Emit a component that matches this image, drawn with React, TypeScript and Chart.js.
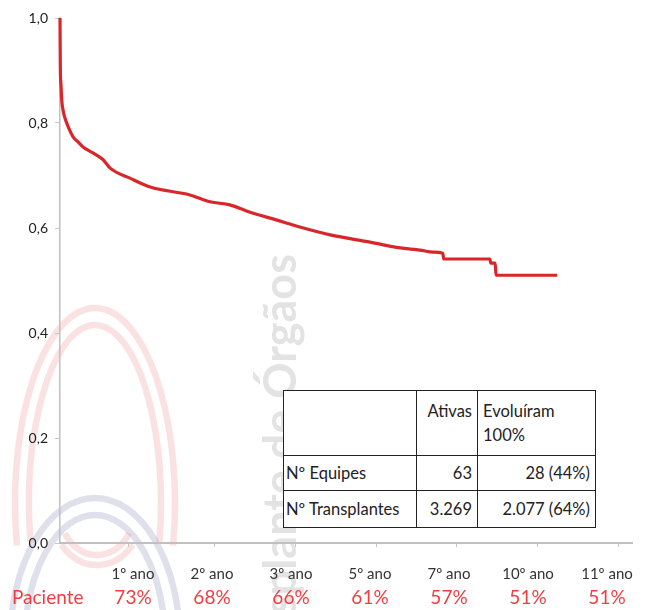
import React, { useEffect, useRef } from "react";
import { Chart, registerables } from "chart.js";

Chart.register(...registerables);

// Kaplan-Meier style survival curve (x in years, y = survival probability)
const survivalYears = [0, 0.007, 0.023, 0.039, 0.08, 0.152, 0.227, 0.3, 0.41, 0.53, 0.75, 0.98, 1.14, 1.59, 2.05, 2.95, 3.41, 3.86, 4.32, 4.93, 5.45, 6.14, 7.05, 7.73, 8.18, 8.48, 8.7, 8.72, 9.77, 9.79, 9.89, 9.91, 11.3];
const survivalValues = [1.0, 0.907, 0.872, 0.844, 0.82, 0.8, 0.785, 0.773, 0.764, 0.754, 0.743, 0.73, 0.714, 0.695, 0.678, 0.663, 0.65, 0.644, 0.63, 0.615, 0.602, 0.587, 0.573, 0.562, 0.558, 0.554, 0.552, 0.541, 0.541, 0.533, 0.533, 0.51, 0.51];

const yTickValues = [0, 0.2, 0.4, 0.6, 0.8, 1.0];
const xTickValues = [1.55, 3.5, 5.35, 7.2, 9.0, 10.85, 12.7];

const yearLabels = ["1º ano", "2º ano", "3º ano", "5º ano", "7º ano", "10º ano", "11º ano"];
const patientPct = ["73%", "68%", "66%", "61%", "57%", "51%", "51%"];
const rowTitle = "Paciente";

const tableHeader = ["", "Ativas", "Evoluíram\n100%"];
const tableRowLabels = ["Nº Equipes", "Nº Transplantes"];
const tableAtivas = ["63", "3.269"];
const tableEvoluiram = ["28 (44%)", "2.077 (64%)"];

const watermarkText = "Transplante de Órgãos";

const FONT = "Lato, 'Open Sans', sans-serif";

const watermarkPlugin = {
  id: "watermark",
  beforeDraw(chart: any) {
    const ctx = chart.ctx;
    ctx.save();
    ctx.lineWidth = 6.5;
    const ring = (cx: number, cy: number, rx: number, ry: number, a0: number, a1: number, color: string) => {
      ctx.strokeStyle = color;
      ctx.beginPath();
      ctx.ellipse(cx, cy, rx, ry, 0, a0, a1);
      ctx.stroke();
    };
    const red = "rgba(228,110,110,0.2)";
    const blue = "rgba(100,100,160,0.2)";
    ring(95, 503, 80, 195, Math.PI * 0.93, Math.PI * 2.07, red);
    ring(95, 503, 66, 178, Math.PI * 0.93, Math.PI * 2.07, red);
    ring(95, 643, 85, 145, Math.PI * 1.0, Math.PI * 2.0, blue);
    ring(95, 643, 70, 128, Math.PI * 1.0, Math.PI * 2.0, blue);
    ring(97, 515, 44, 50, Math.PI * 0.2, Math.PI * 0.8, red);
    ring(97, 515, 36, 40, Math.PI * 0.15, Math.PI * 0.85, red);
    // rotated grey text
    ctx.translate(281, 254);
    ctx.rotate(-Math.PI / 2);
    ctx.fillStyle = "rgba(200,200,200,0.5)";
    ctx.font = `bold 45px ${FONT}`;
    ctx.textAlign = "right";
    ctx.textBaseline = "middle";
    ctx.fillText(watermarkText, 0, 0);
    ctx.restore();
  },
};

const bottomTextPlugin = {
  id: "bottomText",
  afterDraw(chart: any) {
    const ctx = chart.ctx;
    ctx.save();
    ctx.textAlign = "center";
    ctx.textBaseline = "middle";
    yearLabels.forEach((lab, i) => {
      const cx = 133 + 79 * i;
      ctx.fillStyle = "#333";
      ctx.font = `15px ${FONT}`;
      ctx.fillText(lab, cx, 574);
      ctx.fillStyle = "#ef3e42";
      ctx.font = `19px ${FONT}`;
      ctx.fillText(patientPct[i], cx, 598);
    });
    ctx.textAlign = "left";
    ctx.fillStyle = "#ef3e42";
    ctx.font = `19px ${FONT}`;
    ctx.fillText(rowTitle, 12, 598);
    ctx.restore();
  },
};

export default function App() {
  const canvasRef = useRef<HTMLCanvasElement>(null);

  useEffect(() => {
    if (!canvasRef.current) return;
    const chart = new Chart(canvasRef.current, {
      type: "line",
      data: {
        datasets: [
          {
            data: survivalYears.map((t, i) => ({ x: t, y: survivalValues[i] })),
            borderColor: "#d8262b",
            borderWidth: 3.2,
            pointRadius: 0,
            cubicInterpolationMode: "monotone",
            clip: false as any,
          },
        ],
      },
      options: {
        responsive: false,
        animation: false,
        layout: { padding: { top: 18, left: 0, right: 16, bottom: 57 } },
        plugins: { legend: { display: false }, tooltip: { enabled: false } },
        scales: {
          x: {
            type: "linear",
            min: 0,
            max: 13,
            ticks: { display: false },
            grid: { drawOnChartArea: false, tickLength: 4, color: "#c8c8c8" },
            border: { color: "#c0c0c0", width: 2 },
            afterBuildTicks: (s: any) => {
              s.ticks = xTickValues.map((v) => ({ value: v }));
            },
            afterFit: (s: any) => {
              s.height = 10;
            },
          },
          y: {
            min: 0,
            max: 1,
            afterBuildTicks: (s: any) => {
              s.ticks = yTickValues.map((v) => ({ value: v }));
            },
            ticks: {
              color: "#222",
              font: { family: FONT, size: 14 },
              padding: 7,
              callback: (v: any) => Number(v).toFixed(1).replace(".", ","),
            },
            grid: { drawOnChartArea: false, tickLength: 5, color: "#c8c8c8" },
            border: { color: "#c0c0c0", width: 1.5 },
            afterFit: (s: any) => {
              s.width = 60;
            },
          },
        },
      },
      plugins: [watermarkPlugin, bottomTextPlugin],
    });
    return () => chart.destroy();
  }, []);

  const cell: React.CSSProperties = {
    border: "1.5px solid #222",
    padding: "0 5px",
    fontFamily: FONT,
    fontSize: 16.5,
    color: "#222",
    lineHeight: "24px",
  };

  return (
    <div style={{ position: "absolute", left: 0, top: 0, width: 648, height: 610, background: "#fff" }}>
      <canvas ref={canvasRef} width={648} height={610} style={{ position: "absolute", left: 0, top: 0 }} />
      <table
        style={{
          position: "absolute",
          left: 283,
          top: 390,
          width: 312,
          borderCollapse: "collapse",
          background: "#fff",
          tableLayout: "fixed",
        }}
      >
        <colgroup>
          <col style={{ width: 133 }} />
          <col style={{ width: 61 }} />
          <col style={{ width: 118 }} />
        </colgroup>
        <tbody>
          <tr style={{ height: 65 }}>
            {tableHeader.map((h, i) => (
              <td
                key={i}
                style={{ ...cell, verticalAlign: "top", paddingTop: 8, textAlign: i === 1 ? "right" : "left", whiteSpace: "pre-line" }}
              >
                {h}
              </td>
            ))}
          </tr>
          {tableRowLabels.map((lab, r) => (
            <tr key={r} style={{ height: r === 0 ? 35 : 37 }}>
              <td style={{ ...cell, paddingLeft: 2 }}>{lab}</td>
              <td style={{ ...cell, textAlign: "right" }}>{tableAtivas[r]}</td>
              <td style={{ ...cell, textAlign: "right" }}>{tableEvoluiram[r]}</td>
            </tr>
          ))}
        </tbody>
      </table>
    </div>
  );
}
